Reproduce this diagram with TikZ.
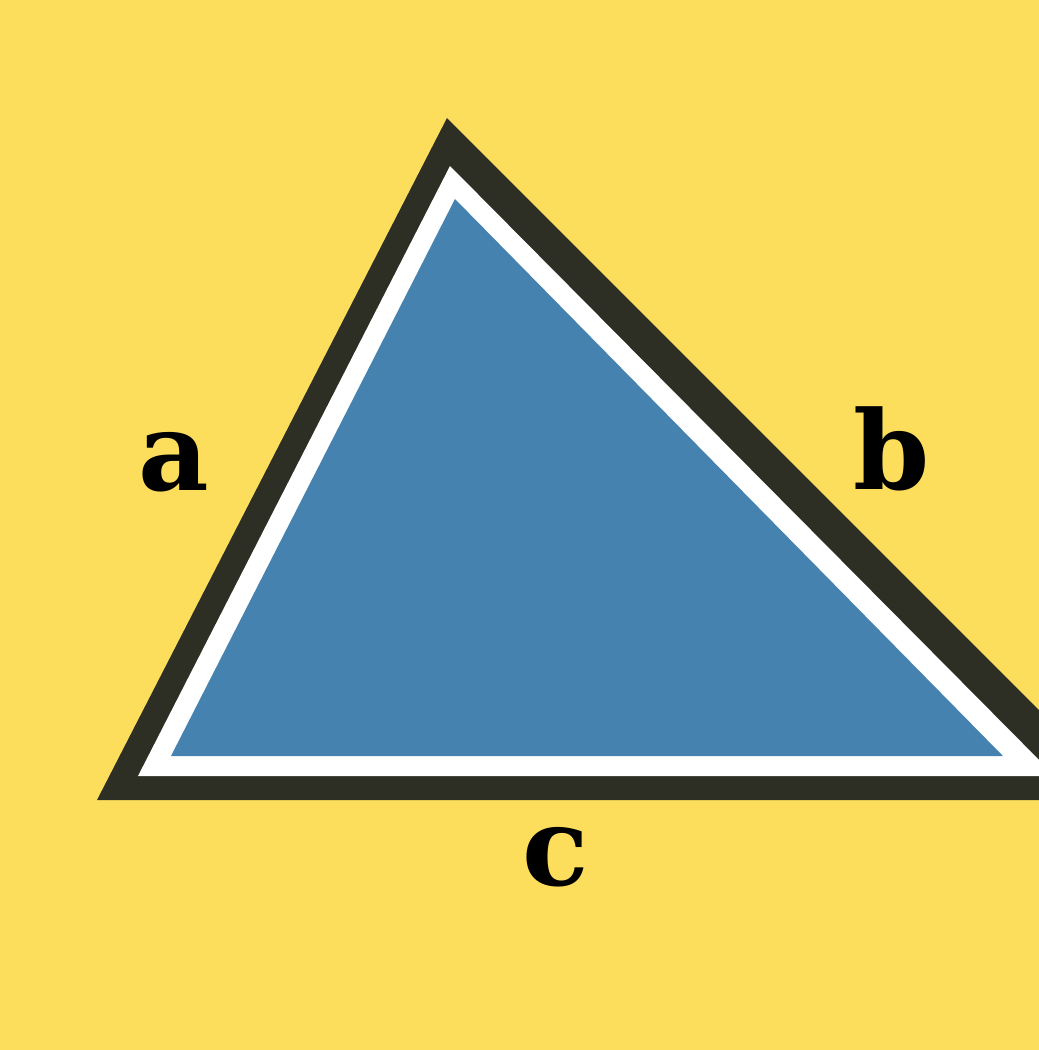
\documentclass[tikz,border=0pt]{standalone}
\usepackage{fontspec}
\newfontfamily\labelfont{DejaVu Serif}
\definecolor{bgyellow}{RGB}{253,222,92}
\definecolor{rim}{RGB}{45,46,36}
\definecolor{steel}{RGB}{70,130,176}
\begin{document}
\begin{tikzpicture}[x=0.01cm, y=-0.01cm,
        side/.style={font=\labelfont\bfseries\fontsize{31}{31}\selectfont,
                     text=black, inner sep=0pt, anchor=base}]
        \useasboundingbox (0,0) rectangle (1039,1050);
        \fill[bgyellow] (0,0) rectangle (1039,1050);
        \clip (0,0) rectangle (1039,1050);
        % outer rim, white band, blue face
        \fill[rim] (447,118) -- (97,800) -- (1129,800) -- cycle;
        \fill[white] (450,166) -- (138,776) -- (1055,776) -- cycle;
        \fill[steel] (455,199) -- (171,756) -- (1003,756) -- cycle;
        % side labels
        \node[side] (la) at (174,490) {a};
        \node[side] (lb) at (892,489) {b};
        \node[side] (lc) at (556,885) {c};
    \end{tikzpicture}
\end{document}
